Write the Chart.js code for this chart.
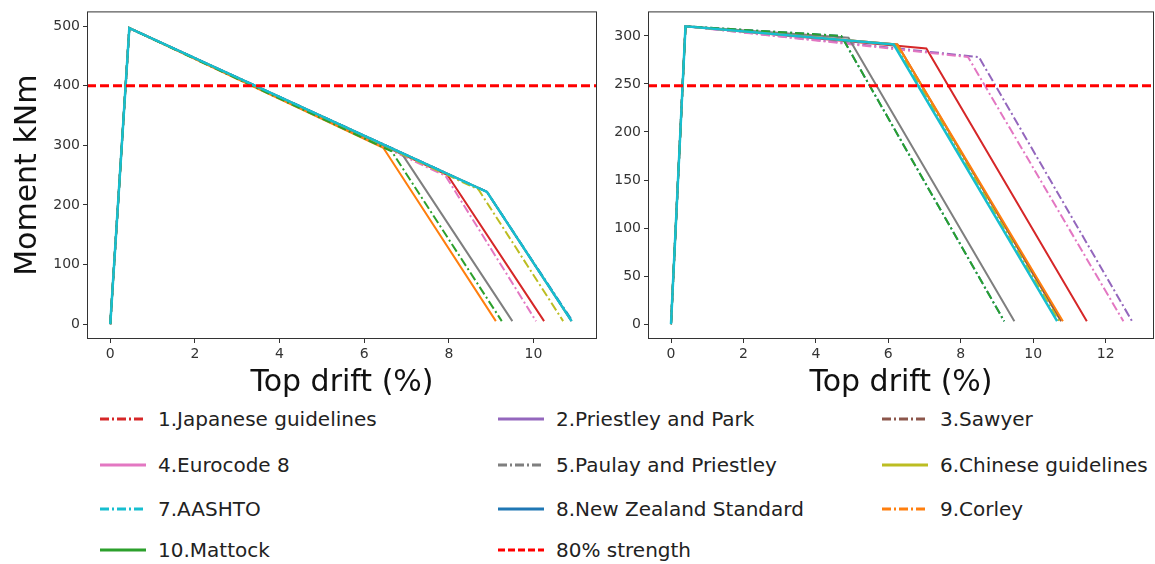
<!DOCTYPE html>
<html>
<head>
<meta charset="utf-8">
<script src="https://cdn.jsdelivr.net/npm/chart.js@4.4.0/dist/chart.umd.min.js"></script>
<style>
  body { margin:0; background:#fff; width:1155px; height:564px; position:relative; overflow:hidden; font-family:"DejaVu Sans", sans-serif; }
  #left { position:absolute; left:0; top:0; }
  #right { position:absolute; left:600px; top:0; }
  .item { position:absolute; display:flex; align-items:center; font-size:20px; color:#222; white-space:nowrap; height:30px; }
  .item svg { margin-right:12px; }
</style>
</head>
<body>
<canvas id="left" width="600" height="404"></canvas>
<canvas id="right" width="555" height="404"></canvas>
<div id="legend"></div>
<script>
// series names (legend order)
const series = ['1.Japanese guidelines', '2.Priestley and Park', '3.Sawyer', '4.Eurocode 8',
  '5.Paulay and Priestley', '6.Chinese guidelines', '7.AASHTO', '8.New Zealand Standard',
  '9.Corley', '10.Mattock'];
const strengthLabel = '80% strength';
const colors = ['#d62728', '#9467bd', '#8c564b', '#e377c2', '#7f7f7f',
  '#bcbd22', '#17becf', '#1f77b4', '#ff7f0e', '#2ca02c'];

// left plot: drift (%) and moment (kNm)
const leftPeak = [0.45, 497];
const leftBreakX = [7.97, 8.9, 8.9, 7.92, 6.9, 8.7, 8.9, 8.9, 6.45, 6.65];
const leftBreakY = [250, 222, 222, 249, 285, 226, 222, 222, 296, 290];
const leftEndX = [10.25, 10.9, 10.9, 10.06, 9.5, 10.7, 10.9, 10.92, 9.11, 9.25];
const leftEndY = 5;
const leftStrength = 400;
const leftXTicks = [0, 2, 4, 6, 8, 10];
const leftYTicks = [0, 100, 200, 300, 400, 500];

// right plot
const rightPeak = [0.4, 310];
const rightBreakX = [7.05, 8.5, 6.25, 8.2, 4.9, 6.2, 6.15, 4.7, 6.25, 4.7];
const rightBreakY = [287, 278, 291, 278, 298, 291, 291, 300, 291, 300];
const rightEndX = [11.48, 12.73, 10.77, 12.49, 9.48, 10.72, 10.66, 9.2, 10.82, 9.2];
const rightEndY = 3;
const rightStrength = 248;
const rightXTicks = [0, 2, 4, 6, 8, 10, 12];
const rightYTicks = [0, 50, 100, 150, 200, 250, 300];

const FONT = 'DejaVu Sans';
const dashDot = [9, 3, 2, 3];

function makeSets(peak, bx, by, ex, ey, strength, xr) {
  const sets = series.map((name, i) => ({
    label: name,
    data: [{x: 0, y: 0}, {x: peak[0], y: peak[1]}, {x: bx[i], y: by[i]}, {x: ex[i], y: ey}],
    borderColor: colors[i],
    borderWidth: i === 6 ? 2.5 : 2,
    borderDash: i % 2 ? dashDot : [],
    pointRadius: 0,
    tension: 0,
    order: i === 6 ? 1 : 20 - i   // AASHTO ends up on top, like the picture
  }));
  sets.push({
    label: strengthLabel,
    data: [{x: xr[0], y: strength}, {x: xr[1], y: strength}],
    borderColor: 'red', borderWidth: 3, borderDash: [9, 4], pointRadius: 0, order: 0
  });
  return sets;
}

const frame = {
  id: 'frame',
  afterDraw(c) {
    const a = c.chartArea, ctx = c.ctx;
    ctx.save();
    ctx.strokeStyle = '#333';
    ctx.lineWidth = 1;
    ctx.strokeRect(a.left + 0.5, a.top + 0.5, a.right - a.left - 1, a.bottom - a.top - 1);
    ctx.restore();
  }
};

function axis(ticks, min, max, size, title, isX) {
  const ax = {
    type: 'linear', min: min, max: max,
    afterBuildTicks: s => { s.ticks = ticks.map(v => ({value: v})); },
    afterFit: s => { if (isX) s.height = size; else s.width = size; },
    grid: {display: true, drawOnChartArea: false, drawTicks: true, tickLength: 4, color: '#333'},
    border: {display: false},
    ticks: {font: {family: FONT, size: 14}, color: '#333', padding: 3, maxRotation: 0}
  };
  if (title) {
    ax.title = {display: true, text: title, font: {family: FONT, size: 30}, color: '#111',
      padding: isX ? {top: 0, bottom: 3} : {top: 10, bottom: 0}};
  }
  return ax;
}

new Chart('left', {
  type: 'line',
  data: {datasets: makeSets(leftPeak, leftBreakX, leftBreakY, leftEndX, leftEndY, leftStrength, [-0.55, 11.5])},
  options: {
    responsive: false, animation: false,
    layout: {padding: {top: 7, right: 3, left: 0, bottom: 0}},
    plugins: {legend: {display: false}, tooltip: {enabled: false}},
    scales: {
      x: axis(leftXTicks, -0.55, 11.5, 65, 'Top drift (%)', true),
      y: axis(leftYTicks, -25, 525, 87, 'Moment kNm', false)
    }
  },
  plugins: [frame]
});

new Chart('right', {
  type: 'line',
  data: {datasets: makeSets(rightPeak, rightBreakX, rightBreakY, rightEndX, rightEndY, rightStrength, [-0.635, 13.335])},
  options: {
    responsive: false, animation: false,
    layout: {padding: {top: 7, right: 1, left: 0, bottom: 0}},
    plugins: {legend: {display: false}, tooltip: {enabled: false}},
    scales: {
      x: axis(rightXTicks, -0.635, 13.335, 65, 'Top drift (%)', true),
      y: axis(rightYTicks, -15.5, 325.5, 48, null, false)
    }
  },
  plugins: [frame]
});

// legend below the plots, 3 columns
const legendCols = [100, 498, 882];
const legendRows = [419, 465, 509, 550];
const legend = document.getElementById('legend');
const entries = series.map((s, i) => ({label: s, color: colors[i], dash: i % 2 ? '' : '9 3 2 3', w: 3}));
entries.push({label: strengthLabel, color: 'red', dash: '7 3', w: 3});
entries.forEach((e, i) => {
  const div = document.createElement('div');
  div.className = 'item';
  div.style.left = legendCols[i % 3] + 'px';
  div.style.top = (legendRows[Math.floor(i / 3)] - 15) + 'px';
  div.innerHTML = '<svg width="46" height="6"><line x1="0" y1="3" x2="46" y2="3" stroke="' + e.color +
    '" stroke-width="' + e.w + '"' + (e.dash ? ' stroke-dasharray="' + e.dash + '"' : '') + '/></svg>' +
    '<span>' + e.label + '</span>';
  legend.appendChild(div);
});
</script>
</body>
</html>
